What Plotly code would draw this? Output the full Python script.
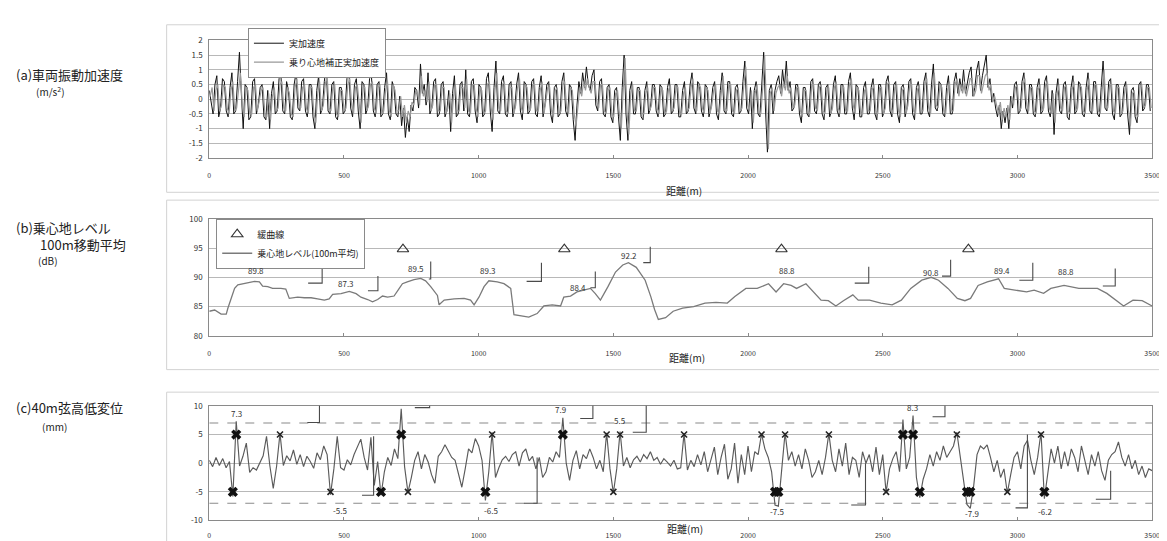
import numpy as np
import plotly.graph_objects as go

FONT = "Noto Sans CJK JP"
W, H = 1167, 541

# ---------------- shared x axis ----------------
x_tickvals = [0, 500, 1000, 1500, 2000, 2500, 3000, 3500]
x_ticktext = ["0", "500", "1000", "1500", "2000", "2500", "3000", "3500"]
x_title = "距離(m)"

# ---------------- (a) vehicle vibration acceleration (m/s2), sampled every 7 m ----------------
acc_step = 7
acc_actual = [
    0.3, -0.2, -0.5, 0.5, 0.8, -0.6, -0.3, 0.7, 0.6, -0.4, -0.6, 0.4, 0.9, -0.5, -0.4, 0.6, 1.6, 0.2, -1.0, 0.5, 0.4, -0.7, -0.6, 0.6, 0.7,
    -0.5, -0.2, 0.4, 0.5, -0.6, -0.7, 0.3, -1.0, 0.2, 0.6, -0.5, -0.4, 0.7, 0.8, -0.4, -0.5, 0.6, 0.3, -0.6, -0.7, 0.5, 0.9, -0.3, -0.4, 0.6,
    0.7, -0.4, -0.6, 0.5, 0.5, -0.6, -1.0, 0.3, 0.8, -0.5, -0.3, 0.6, 1.1, -0.4, -0.5, 0.5, 0.6, -0.6, -0.7, 0.4, 0.4, -0.5, -0.4, 0.7, 1.0,
    -0.3, -0.6, 0.5, 0.7, -0.4, -1.0, 0.6, 0.5, -0.5, -0.3, 0.7, 0.8, -0.4, -0.6, 0.5, 0.6, -0.6, -0.5, 0.4, 0.9, -0.5, -0.7, 0.6, 0.4, -0.5,
    -0.6, 0.1, -0.9, -0.3, -1.3, -0.6, -1.1, -0.2, -0.4, 0.4, 0.3, -0.3, 1.2, 0.2, 0.5, -0.2, 0.9, -0.5, -0.3, 0.6, 0.7, -0.6, -0.5, 0.5, 0.6,
    -0.6, -0.4, 0.3, -1.1, 0.2, 0.8, -0.6, -0.5, 0.5, 0.6, -0.4, 1.0, -0.5, -0.6, 0.6, 0.7, -0.4, -0.8, 0.5, 0.4, -0.6, -0.5, 0.7, 0.9, -0.4,
    -1.1, 0.4, 1.3, -0.4, -0.5, 0.6, 0.8, -0.5, -0.6, 0.5, 0.6, -0.6, -0.3, 0.5, 0.9, -0.4, -0.7, 0.6, 0.5, -0.5, -0.4, 0.6, 0.7, -0.5, -0.6,
    0.4, 0.8, -0.6, -0.2, 0.5, 0.6, -0.5, -0.8, 0.4, 0.5, -0.6, -0.5, 0.6, 0.9, -0.4, -0.6, 0.5, 0.4, -0.7, -1.4, -0.2, 0.6, 0.2, 0.9, 0.4,
    1.1, 0.5, 0.3, 0.8, 1.0, -0.2, -0.4, 0.6, 0.7, -0.5, -0.6, 0.4, 0.5, -0.6, -0.8, 0.3, 0.4, -0.6, -1.4, 0.4, 1.5, -0.5, -1.4, 0.3, 0.6,
    -0.5, -0.5, 0.4, 0.4, -0.6, -0.7, 0.3, 0.6, -0.5, -0.3, 0.5, 0.5, -0.4, -0.6, 0.5, 0.4, -0.6, -0.5, 0.4, 0.7, -0.5, -0.4, 0.5, 0.5, -0.6,
    -0.6, 0.3, 0.6, -0.5, -0.4, 0.5, 0.9, -0.3, -0.5, 0.6, 0.5, -0.4, -0.6, 0.5, 0.4, -0.6, -0.3, 0.4, 0.6, -0.5, -0.7, 0.3, 0.9, -0.4, -0.5,
    0.6, 0.6, -0.5, -0.6, 0.4, 0.5, -0.5, -0.4, 0.6, 1.3, -0.3, -0.5, 0.4, -1.0, 0.3, 0.6, -0.5, -0.6, 0.5, 1.6, -0.4, -1.8, 0.3, 0.5, -0.5,
    0.3, 0.6, 0.8, 0.2, 1.0, 0.4, 1.3, 0.3, 0.6, -0.4, -0.3, 0.5, 0.5, -0.5, -0.8, 0.4, 0.4, -0.5, -0.6, 0.6, 0.7, -0.4, -0.5, 0.5, 0.6,
    -0.5, -0.7, 0.4, 0.5, -0.6, -0.4, 0.5, 0.8, -0.4, -0.6, 0.5, 0.5, -0.5, -0.5, 0.6, 0.9, -0.3, -0.7, 0.5, 0.4, -0.6, -0.6, 0.4, 0.6, -0.5,
    -0.5, 0.4, 0.7, -0.5, -0.7, 0.5, 0.5, -0.6, -0.4, 0.6, 0.8, -0.4, -0.6, 0.5, 0.6, -0.5, -0.8, 0.4, 0.5, -0.6, -0.3, 0.6, 0.7, -0.5, -0.7,
    0.4, 0.6, -0.5, -0.5, 0.6, 0.9, -0.4, -0.6, 0.5, 1.2, -0.3, -0.4, 0.6, 0.5, -0.5, -0.6, 0.4, 0.8, -0.5, -0.5, 0.6, 0.9, 0.2, 0.7, 0.3,
    1.0, 0.2, 0.6, 0.9, 1.1, 0.1, 0.4, 1.0, 1.3, 0.3, 0.8, 1.1, 1.5, 0.4, 0.7, -0.1, 0.2, -0.3, -0.6, -0.2, -1.0, -0.4, -0.8, -0.3, -1.0,
    0.1, -0.3, 0.5, 0.6, -0.5, -0.4, 0.6, 0.9, -0.3, -0.5, 0.5, 0.5, -0.5, -0.6, 0.4, 0.7, -0.5, -0.4, 0.6, 0.8, -0.4, -0.6, 0.3, -1.2, 0.2,
    0.7, -0.4, -0.5, 0.5, 0.6, -0.6, -0.7, 0.4, 0.8, -0.5, -0.4, 0.6, 0.5, -0.5, -0.6, 0.4, 0.9, -0.4, -0.5, 0.6, 0.6, -0.5, -0.6, 0.4, 1.3,
    -0.3, -0.4, 0.6, 0.7, -0.5, -0.7, 0.5, 0.5, -0.6, -0.5, 0.4, 0.6, -0.5, -1.2, 0.3, 0.4, -0.6, -0.8, 0.5, 0.6, -0.4, -0.3, 0.5, 0.5, -0.4,
]
acc_weighted = [
    0.1, 0.4, -0.4, 0.3, 0.5, -0.4, -0.2, 0.5, 0.4, -0.3, -0.5, 0.3, 0.6, -0.4, -0.3, 0.4, 0.9, -0.2, -0.6, 0.4, 0.3, -0.5, -0.5, 0.4, 0.5,
    -0.4, -0.1, 0.3, 0.4, -0.5, -0.6, 0.2, -0.7, 0.1, 0.4, -0.4, -0.3, 0.5, 0.6, -0.3, -0.4, 0.4, 0.2, -0.5, -0.6, 0.4, 0.7, -0.2, -0.3, 0.4,
    0.5, -0.3, -0.5, 0.4, 0.4, -0.5, -0.8, 0.2, 0.6, -0.4, -0.2, 0.5, 0.8, -0.3, -0.4, 0.4, 0.5, -0.5, -0.6, 0.3, 0.3, -0.4, -0.3, 0.5, 0.7,
    -0.2, -0.5, 0.4, 0.5, -0.3, -0.8, 0.4, 0.4, -0.4, -0.2, 0.5, 0.6, -0.3, -0.5, 0.4, 0.5, -0.5, -0.4, 0.3, 0.6, -0.4, -0.6, 0.5, 0.3, -0.4,
    -0.4, 0.1, -0.6, -0.2, -0.8, -0.4, -0.6, -0.1, -0.2, 0.3, 0.2, -0.2, 0.8, 0.1, 0.3, -0.1, 0.6, -0.4, -0.2, 0.5, 0.5, -0.4, -0.4, 0.4, 0.4,
    -0.5, -0.3, 0.2, -0.8, 0.1, 0.5, -0.4, -0.4, 0.4, 0.4, -0.3, 0.7, -0.4, -0.5, 0.5, 0.5, -0.3, -0.6, 0.4, 0.3, -0.5, -0.4, 0.5, 0.6, -0.3,
    -0.7, 0.3, 0.9, -0.3, -0.4, 0.5, 0.6, -0.4, -0.5, 0.4, 0.4, -0.5, -0.2, 0.4, 0.7, -0.3, -0.5, 0.5, 0.4, -0.4, -0.3, 0.5, 0.5, -0.4, -0.4,
    0.3, 0.6, -0.5, -0.1, 0.4, 0.4, -0.4, -0.6, 0.3, 0.4, -0.5, -0.4, 0.5, 0.6, -0.3, -0.5, 0.4, 0.3, -0.5, -0.9, -0.1, 0.4, 0.1, 0.6, 0.3,
    0.7, 0.4, 0.2, 0.6, 0.6, -0.1, -0.3, 0.5, 0.5, -0.4, -0.5, 0.3, 0.4, -0.5, -0.6, 0.2, 0.3, -0.5, -1.0, 0.3, 1.4, -0.4, -1.2, 0.2, 0.5,
    -0.4, -0.4, 0.3, 0.3, -0.5, -0.5, 0.2, 0.4, -0.4, -0.2, 0.4, 0.4, -0.3, -0.5, 0.4, 0.3, -0.5, -0.4, 0.3, 0.5, -0.4, -0.3, 0.4, 0.4, -0.5,
    -0.5, 0.2, 0.4, -0.4, -0.3, 0.4, 0.7, -0.2, -0.4, 0.5, 0.4, -0.3, -0.5, 0.4, 0.3, -0.5, -0.2, 0.3, 0.5, -0.4, -0.5, 0.2, 0.8, -0.3, -0.4,
    0.5, 0.5, -0.4, -0.5, 0.3, 0.4, -0.4, -0.3, 0.5, 1.1, -0.2, -0.4, 0.3, -0.8, 0.2, 0.5, -0.4, -0.5, 0.4, 1.5, -0.3, -1.7, 0.2, 0.4, -0.4,
    0.2, 0.4, 0.5, 0.1, 0.6, 0.3, 0.8, 0.2, 0.4, -0.3, -0.2, 0.4, 0.4, -0.4, -0.6, 0.3, 0.3, -0.4, -0.5, 0.5, 0.5, -0.3, -0.4, 0.4, 0.5,
    -0.4, -0.5, 0.3, 0.4, -0.5, -0.3, 0.4, 0.6, -0.3, -0.5, 0.4, 0.4, -0.4, -0.4, 0.5, 0.7, -0.2, -0.5, 0.4, 0.3, -0.5, -0.5, 0.3, 0.4, -0.4,
    -0.4, 0.3, 0.5, -0.4, -0.5, 0.4, 0.4, -0.5, -0.3, 0.5, 0.6, -0.3, -0.5, 0.4, 0.5, -0.4, -0.6, 0.3, 0.4, -0.5, -0.2, 0.5, 0.5, -0.4, -0.5,
    0.3, 0.5, -0.4, -0.4, 0.5, 0.7, -0.3, -0.5, 0.4, 0.9, -0.2, -0.3, 0.5, 0.4, -0.4, -0.5, 0.3, 0.6, -0.4, -0.4, 0.5, 0.7, 0.1, 0.5, 0.2,
    0.6, 0.1, 0.4, 0.7, 0.7, 0.1, 0.3, 0.8, 0.8, 0.2, 0.5, 0.8, 0.9, 0.3, 0.5, -0.1, 0.1, -0.2, -0.5, -0.1, -0.7, -0.3, -0.6, -0.2, -0.7,
    0.1, -0.2, 0.4, 0.5, -0.4, -0.3, 0.5, 0.7, -0.2, -0.4, 0.4, 0.4, -0.4, -0.5, 0.3, 0.5, -0.4, -0.3, 0.5, 0.6, -0.3, -0.5, 0.2, -0.8, 0.1,
    0.5, -0.3, -0.4, 0.4, 0.5, -0.4, -0.5, 0.3, 0.6, -0.4, -0.3, 0.5, 0.4, -0.4, -0.5, 0.3, 0.7, -0.3, -0.4, 0.5, 0.5, -0.4, -0.5, 0.3, 1.0,
    -0.2, -0.3, 0.5, 0.5, -0.4, -0.5, 0.4, 0.4, -0.5, -0.4, 0.3, 0.5, -0.4, -0.9, 0.2, 0.3, -0.5, -0.6, 0.4, 0.5, -0.3, -0.2, 0.4, 0.4, -0.3,
]
dist_actual = [acc_step * i for i in range(len(acc_actual))]
dist_weighted = [acc_step * i + acc_step / 2 for i in range(len(acc_weighted))]
a_tickvals = [-2, -1.5, -1, -0.5, 0, 0.5, 1, 1.5, 2]
a_ticktext = ["-2", "-1.5", "-1", "-0.5", "0", "0.5", "1", "1.5", "2"]

# ---------------- (b) ride comfort level, 100 m moving average ----------------
dist_b = [0, 20, 44, 63, 69, 82, 94, 106, 131, 168, 186, 198, 217, 235, 266, 284, 297, 328, 353, 378,
          402, 427, 445, 458, 489, 520, 545, 563, 588, 606, 625, 643, 662, 686, 704, 717, 735, 760, 785, 803,
          822, 847, 853, 872, 909, 946, 970, 983, 1001, 1020, 1038, 1069, 1094, 1119, 1131, 1156, 1186, 1217, 1242, 1273,
          1304, 1316, 1341, 1365, 1390, 1415, 1433, 1452, 1480, 1508, 1535, 1556, 1585, 1618, 1639, 1653, 1667, 1694, 1722, 1757,
          1798, 1840, 1881, 1923, 1951, 1992, 2034, 2076, 2104, 2132, 2160, 2180, 2215, 2243, 2271, 2298, 2326, 2354, 2389, 2409,
          2451, 2493, 2535, 2569, 2604, 2645, 2680, 2707, 2742, 2777, 2805, 2826, 2854, 2888, 2930, 2951, 2993, 3034, 3062, 3097,
          3124, 3173, 3228, 3297, 3332, 3366, 3394, 3429, 3463, 3500]
level_b = [84.2, 84.4, 83.7, 83.7, 84.7, 86.5, 88.1, 88.7, 88.9, 89.3, 89.2, 88.5, 88.4, 88.1, 88.1, 88.0, 86.4, 86.6, 86.5, 86.5,
           86.3, 86.1, 86.3, 87.1, 87.2, 87.6, 87.2, 86.6, 86.2, 85.8, 86.2, 86.8, 86.6, 86.8, 88.0, 88.9, 89.2, 89.6, 89.8, 89.4,
           88.4, 86.9, 85.3, 86.1, 86.3, 86.4, 86.1, 85.3, 86.6, 88.4, 89.4, 89.2, 88.9, 88.1, 83.6, 83.4, 83.2, 83.8, 85.1, 85.3,
           85.1, 86.6, 86.8, 87.5, 87.8, 88.1, 87.2, 86.1, 88.4, 90.9, 92.1, 92.5, 91.7, 89.5, 86.7, 84.5, 82.8, 83.1, 84.2, 84.75,
           85.0, 85.6, 85.7, 85.6, 86.7, 88.1, 88.1, 88.9, 87.5, 88.9, 88.6, 88.1, 88.9, 87.5, 86.1, 86.0, 85.1, 86.0, 87.0, 86.1,
           86.1, 85.6, 85.3, 86.1, 88.1, 89.5, 90.0, 89.5, 88.1, 86.4, 86.0, 86.4, 88.6, 89.2, 89.75, 88.1, 87.8, 87.5, 87.8, 87.25,
           88.1, 88.6, 88.1, 88.1, 87.25, 86.0, 85.1, 86.1, 86.0, 85.1]
curve_x = [719, 1318, 2124, 2818]        # transition curves (緩曲線)
curve_y = [94.8, 94.8, 94.8, 94.8]
b_tickvals = [80, 85, 90, 95, 100]
b_ticktext = ["80", "85", "90", "95", "100"]
b_label_text = ["89.8", "87.3", "89.5", "89.3", "88.4", "92.2", "88.8", "90.8", "89.4", "88.8"]
b_label_x = [174, 507, 767, 1033, 1367, 1559, 2144, 2678, 2941, 3181]
b_label_y = [91.2, 89.0, 91.5, 91.2, 88.2, 93.7, 91.2, 90.8, 91.2, 91.0]
b_brk_left = [367, 589, 815, 1178, 1415, 1611, 2396, 2720, 3007, 3317]
b_brk_right = [419, 626, 822, 1233, 1433, 1637, 2448, 2752, 3057, 3363]
b_brk_bottom = [89.0, 87.7, 89.7, 89.3, 88.2, 92.5, 89.0, 90.2, 89.5, 88.5]
b_brk_top = [92.0, 90.2, 92.7, 92.5, 91.0, 95.2, 91.8, 93.0, 92.5, 91.5]

# ---------------- (c) 40 m chord vertical track irregularity ----------------
disp_step = 12.5
disp_c = [
    0.5, -0.6, 1.0, -0.4, 0.8, -0.8, 0.3, -5.8, 7.3, -0.5, 1.2, 3.5, -1.6, -0.8, -1.2, 0.2, 1.3, 4.7, -0.5, -4.4,
    -0.5, 5.2, -0.4, 1.3, 0.4, 2.3, -0.2, 1.5, -0.6, 1.2, 0.3, -0.9, 1.8, 0.6, 3.0, 1.5, -5.5, -1.0, 4.7, -0.8,
    -1.2, 0.6, -0.3, 1.5, 2.8, 4.2, 1.0, -1.2, 4.5, -3.9, 0.3, -5.6, -1.5, 1.0, -0.4, 2.5, 0.8, 9.5, -0.6, -5.1,
    -2.5, 0.5, 2.0, -1.0, 1.5, 0.2, -2.0, -3.5, 1.2, 2.0, 3.2, 2.0, 1.0, 0.5, -1.8, -4.2, -1.0, 2.5, 1.8, 4.3,
    3.0, 0.5, -6.5, -1.5, 5.4, -2.5, -0.8, 0.6, 1.2, 0.3, 1.5, 2.0, -0.5, 1.8, 2.5, 0.4, 1.2, -1.0, 1.0, -2.5,
    -1.5, 1.0, 0.2, 2.0, 1.0, 7.9, 0.0, -3.0, 0.5, 2.2, -1.0, 1.5, 0.8, 2.5, 1.0, -1.0, 0.5, -1.5, 5.3, -1.0,
    -5.2, -1.0, 5.5, -0.5, 1.0, -0.8, 0.6, 1.2, 0.2, 1.5, 0.8, 2.0, 0.5, 1.0, -0.2, 0.8, 0.2, -0.5, 0.5, -1.0,
    -0.8, 5.2, -1.2, 0.5, -0.6, 1.5, -0.3, 2.0, -1.5, 0.8, 2.8, -2.0, 1.0, 3.3, -2.8, -1.0, 3.5, -3.5, 1.5, -2.0,
    3.0, -1.5, 2.0, 1.5, 5.1, 2.5, 1.0, -1.5, -7.3, -7.5, -1.0, 5.3, 0.5, 2.0, -0.5, 1.5, -1.0, 2.5, 0.5, -2.5,
    -1.5, 0.5, -2.0, 1.0, 5.2, 0.5, -1.5, 2.5, -0.5, 3.5, -2.0, 1.0, 0.5, -2.5, 2.0, 0.0, 1.5, -1.5, 2.8, -2.0,
    1.5, -5.1, -1.0, 0.8, 2.0, -1.5, 7.6, -1.0, 1.0, 8.3, -2.5, -6.0, -2.8, -1.0, 1.5, -0.5, 2.0, 0.5, 3.0, 1.0,
    2.0, 3.0, 5.4, 1.0, -3.5, -7.2, -7.9, -4.0, 1.5, 3.0, 2.5, 3.2, 1.0, -1.5, 0.5, -2.5, -1.0, -5.2, -2.0, 1.0,
    2.0, -1.0, 3.0, 4.0, 0.5, -2.0, 1.0, 5.4, -6.2, -1.5, 2.5, 0.0, 3.0, -1.0, 2.0, -0.5, 2.5, 1.0, -1.5, 3.0,
    0.5, -2.0, 1.5, -0.5, 2.0, -1.3, -3.0, 0.5, 1.5, 2.0, 3.7, 1.0, -0.5, 1.5, -1.0, 0.5, -2.0, -0.5, -2.5, -1.0, -1.3,
]
dist_c = [disp_step * i for i in range(len(disp_c))]
c_threshold = 5      # marker level
c_limit = 7          # dashed limit lines
c_tickvals = [-10, -5, 0, 5, 10]
c_ticktext = ["-10", "-5", "0", "5", "10"]
c_label_text = ["7.3", "9.5", "7.9", "5.5", "8.3", "-5.5", "-6.5", "-7.5", "-7.9", "-6.2"]
c_label_x = [100, 714, 1303, 1524, 2609, 487, 1045, 2106, 2830, 3103]
c_label_y = [8.7, 10.5, 9.4, 7.5, 9.8, -8.2, -8.2, -8.5, -8.7, -8.4]
c_brk_left = [364, 763, 1377, 1572, 2685, 567, 1168, 2383, 2993, 3291]
c_brk_right = [409, 818, 1424, 1622, 2731, 610, 1217, 2436, 3037, 3346]
c_brk_bottom = [7.1, 9.7, 7.8, 5.4, 8.1, -5.6, -7.0, -7.3, -7.8, -6.3]
c_brk_top = [10.3, 10.3, 10.3, 10.3, 10.3, 4.7, 1.0, 0.0, 5.0, -1.3]

# exceedance markers (placed on the ±5 mm line)
vals_c = np.array(disp_c)
exceed = np.abs(vals_c) >= c_threshold
big = exceed & (np.abs(vals_c) > 5.5)
small = exceed & ~big
mk_x_big = np.array(dist_c)[big]
mk_y_big = np.sign(vals_c[big]) * c_threshold
mk_x_small = np.array(dist_c)[small]
mk_y_small = np.sign(vals_c[small]) * c_threshold

# ---------------- layout geometry (pixels -> paper) ----------------
def px(x):
    return x / W

def py(y):
    return 1 - y / H

x_dom = [px(201), px(1152)]
dom_a = [py(147), py(27)]
dom_b = [py(328.5), py(209)]
dom_c = [py(517), py(400)]

fig = go.Figure()

# (a)
fig.add_trace(go.Scatter(x=dist_actual, y=acc_actual, mode="lines", name="実加速度",
                         line=dict(color="#111111", width=1.0), xaxis="x", yaxis="y", legend="legend"))
fig.add_trace(go.Scatter(x=dist_weighted, y=acc_weighted, mode="lines", name="乗り心地補正実加速度",
                         line=dict(color="#999999", width=1.2), xaxis="x", yaxis="y", legend="legend"))
# (b)
fig.add_trace(go.Scatter(x=curve_x, y=curve_y, mode="markers", name="緩曲線",
                         marker=dict(symbol="triangle-up-open", size=10, color="#333333", line=dict(width=1.1)),
                         xaxis="x2", yaxis="y2", legend="legend2"))
fig.add_trace(go.Scatter(x=dist_b, y=level_b, mode="lines", name="乗心地レベル(100m平均)",
                         line=dict(color="#7a7a7a", width=1.3), xaxis="x2", yaxis="y2", legend="legend2"))
# (c)
fig.add_trace(go.Scatter(x=dist_c, y=disp_c, mode="lines", showlegend=False,
                         line=dict(color="#5a5a5a", width=1.15), xaxis="x3", yaxis="y3"))
fig.add_trace(go.Scatter(x=mk_x_small, y=mk_y_small, mode="markers", showlegend=False,
                         marker=dict(symbol="x-thin", size=6, line=dict(color="#222222", width=1.6)),
                         xaxis="x3", yaxis="y3"))
fig.add_trace(go.Scatter(x=mk_x_big, y=mk_y_big, mode="markers", showlegend=False,
                         marker=dict(symbol="x", size=9, color="#111111", line=dict(width=0)),
                         xaxis="x3", yaxis="y3"))

axis_line = "#8a8a8a"
grid_col = "#b8b8b8"
tick_font = dict(family=FONT, size=7, color="#333333")
ytick_font = dict(family=FONT, size=8, color="#333333")

def xaxis(anchor, standoff):
    return dict(domain=x_dom, anchor=anchor, range=[0, 3500], tickvals=x_tickvals, ticktext=x_ticktext,
                showline=True, mirror=True, linecolor=axis_line, linewidth=1, ticks="inside", ticklen=3,
                tickcolor=axis_line, showgrid=False, zeroline=False, tickfont=tick_font,
                ticklabelstandoff=standoff, fixedrange=True)

def yaxis(anchor, dom, rng, tv, tt):
    return dict(domain=dom, anchor=anchor, range=rng, tickvals=tv, ticktext=tt, showline=True, mirror=True,
                linecolor=axis_line, linewidth=1, showgrid=True, gridcolor=grid_col, gridwidth=1,
                zeroline=False, ticks="", tickfont=ytick_font, ticklabelstandoff=4, fixedrange=True)

shapes = []
# chart-area frames
for top, bottom in [(11, 182), (190, 363), (386, 545)]:
    shapes.append(dict(type="rect", xref="paper", yref="paper", x0=px(158), x1=px(1164), y0=py(bottom), y1=py(top),
                       line=dict(color="#d2d2d2", width=1), layer="below"))
# (c) dashed limit lines
for lv in (c_limit, -c_limit):
    shapes.append(dict(type="line", xref="x3", yref="y3", x0=0, x1=3500, y0=lv, y1=lv,
                       line=dict(color="#8a8a8a", width=1.1, dash="dash"), layer="below"))
# callout brackets
def bracket(xl, xr, yb, yt, xref, yref):
    return dict(type="path", xref=xref, yref=yref, path=f"M {xl},{yb} L {xr},{yb} L {xr},{yt}",
                line=dict(color="#4a4a4a", width=1.1))

for xl, xr, yb, yt in zip(b_brk_left, b_brk_right, b_brk_bottom, b_brk_top):
    shapes.append(bracket(xl, xr, yb, yt, "x2", "y2"))
for xl, xr, yb, yt in zip(c_brk_left, c_brk_right, c_brk_bottom, c_brk_top):
    shapes.append(bracket(xl, xr, yb, yt, "x3", "y3"))

annotations = []
lab_font = dict(family=FONT, size=8, color="#333333")
for t, x, y in zip(b_label_text, b_label_x, b_label_y):
    annotations.append(dict(text=t, x=x, y=y, xref="x2", yref="y2", showarrow=False, font=lab_font))
for t, x, y in zip(c_label_text, c_label_x, c_label_y):
    annotations.append(dict(text=t, x=x, y=y, xref="x3", yref="y3", showarrow=False, font=lab_font))

# axis titles 距離(m)
for xx, yy in [(680, 170), (683, 351), (681, 535)]:
    annotations.append(dict(text=x_title, x=px(xx), y=py(yy), xref="paper", yref="paper", showarrow=False,
                            font=dict(family=FONT, size=10, color="#222222")))

# panel titles on the left
left_texts = [
    ("(a)車両振動加速度", 4, 62, 13),
    ("(m/s<sup>2</sup>)", 24, 79, 10),
    ("(b)乗心地レベル", 4, 218, 13),
    ("100m移動平均", 28, 235, 13),
    ("(dB)", 26, 252, 10),
    ("(c)40m弦高低変位", 4, 402, 13),
    ("(mm)", 30, 421, 10),
]
for t, xx, yy, fs in left_texts:
    annotations.append(dict(text=t, x=px(xx), y=py(yy), xref="paper", yref="paper", xanchor="left",
                            yanchor="middle", showarrow=False, font=dict(family=FONT, size=fs, color="#222222")))

legend_common = dict(bgcolor="white", bordercolor="#8a8a8a", borderwidth=1, xanchor="left", yanchor="top",
                     font=dict(family=FONT, size=9, color="#222222"), itemwidth=30, tracegroupgap=0,
                     traceorder="normal")

fig.update_layout(
    width=W, height=H, margin=dict(l=0, r=0, t=0, b=0),
    paper_bgcolor="white", plot_bgcolor="white",
    font=dict(family=FONT, size=9, color="#222222"),
    xaxis=xaxis("y", 11), yaxis=yaxis("x", dom_a, [-2, 2], a_tickvals, a_ticktext),
    xaxis2=xaxis("y2", 11), yaxis2=yaxis("x2", dom_b, [80, 100], b_tickvals, b_ticktext),
    xaxis3=xaxis("y3", 8), yaxis3=yaxis("x3", dom_c, [-10, 10], c_tickvals, c_ticktext),
    legend=dict(x=px(240), y=py(14), **legend_common),
    legend2=dict(x=px(208), y=py(209), **legend_common),
    shapes=shapes, annotations=annotations, showlegend=True,
)

fig.write_html("out.html")
